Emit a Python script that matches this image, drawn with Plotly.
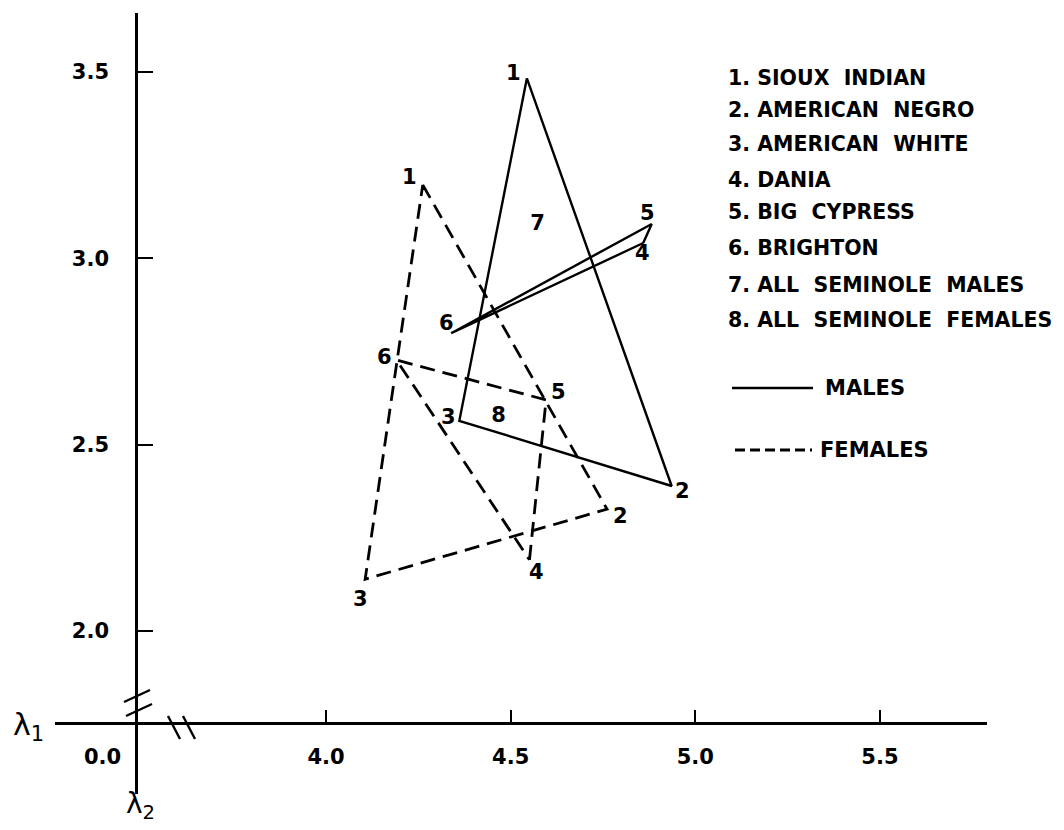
import plotly.graph_objects as go

# ---------------- data ----------------
groups = ["SIOUX INDIAN", "AMERICAN NEGRO", "AMERICAN WHITE", "DANIA",
          "BIG CYPRESS", "BRIGHTON", "ALL SEMINOLE MALES", "ALL SEMINOLE FEMALES"]
group_ids = ["1", "2", "3", "4", "5", "6"]

male_l1 = [4.544, 4.936, 4.361, 4.859, 4.882, 4.339]
male_l2 = [3.483, 2.389, 2.564, 3.041, 3.092, 2.799]
female_l1 = [4.262, 4.761, 4.106, 4.551, 4.596, 4.191]
female_l2 = [3.197, 2.327, 2.139, 2.191, 2.620, 2.727]

seminole_ids = ["7", "8"]
seminole_l1 = [4.573, 4.467]
seminole_l2 = [3.089, 2.575]

x_ticks = [4.0, 4.5, 5.0, 5.5]
x_tick_labels = ["4.0", "4.5", "5.0", "5.5"]
y_ticks = [2.0, 2.5, 3.0, 3.5]
y_tick_labels = ["2.0", "2.5", "3.0", "3.5"]

# triangle outlines: 1-2-3 and 4-5-6 (indices)
outline = [0, 1, 2, 0, None, 3, 4, 5, 3]

# ---------------- layout constants ----------------
OFF = 8                      # page body margin in the browser
W, H = 1064 - OFF, 830 - OFF
ML, MR, MT, MB = 55 - OFF, 77, 13 - OFF, 36
PW, PH = W - ML - MR, H - MT - MB
X_RANGE = [3.26618, 5.78987]
Y_RANGE = [1.56265, 3.65817]
FONT = "DejaVu Sans"


def paper(px, py):
    """page pixel -> paper coordinates"""
    return (px - OFF - ML) / PW, (H - MB - (py - OFF)) / PH


def path(xs, ys):
    ox, oy = [], []
    for i in outline:
        ox.append(None if i is None else xs[i])
        oy.append(None if i is None else ys[i])
    return ox, oy


fig = go.Figure()
mx, my = path(male_l1, male_l2)
fig.add_trace(go.Scatter(x=mx, y=my, mode="lines", name="MALES",
                         line=dict(color="black", width=2.4), hoverinfo="skip"))
fx, fy = path(female_l1, female_l2)
fig.add_trace(go.Scatter(x=fx, y=fy, mode="lines", name="FEMALES",
                         line=dict(color="black", width=2.8, dash="15px,8px"),
                         hoverinfo="skip"))

# point number labels (pixel offsets from vertex: dx right, dy down)
male_off = [(-13, -5), (11, 5), (-11, -4), (-1, 10), (-4, -11), (-5, -10)]
female_off = [(-13, -8), (13, 7), (-5, 20), (7, 12), (12, -8), (-12, -3)]
annos = []
for xs, ys, offs in ((male_l1, male_l2, male_off), (female_l1, female_l2, female_off)):
    for gid, x, y, (dx, dy) in zip(group_ids, xs, ys, offs):
        annos.append(dict(x=x, y=y, xref="x", yref="y", text=gid, showarrow=False,
                          xshift=dx, yshift=-dy,
                          font=dict(family=FONT, size=21, color="black", weight="bold")))
fig.add_trace(go.Scatter(x=seminole_l1, y=seminole_l2, mode="text", text=seminole_ids,
                         textfont=dict(family=FONT, size=21, color="black", weight="bold"),
                         showlegend=False, hoverinfo="skip"))

# key list
row_y = [78, 110, 143.5, 180, 212, 248, 285, 320]
for k, (name, ry) in enumerate(zip(groups, row_y)):
    px_, py_ = paper(726, ry)
    annos.append(dict(x=px_, y=py_, xref="paper", yref="paper", xanchor="left",
                      yanchor="middle", showarrow=False,
                      text=f"{k + 1}. " + name.replace(" ", "\u00a0\u00a0"),
                      font=dict(family=FONT, size=20.5, color="black", weight="bold")))

shapes = []
# line-style key
for (x0, x1, ly, dash, lw, label, tx) in ((732, 813, 388, "solid", 2.4, "MALES", 823),
                                          (735, 812, 450, "10px,5px", 3.2, "FEMALES", 818)):
    a0, b0 = paper(x0, ly)
    a1, _ = paper(x1, ly)
    shapes.append(dict(type="line", xref="paper", yref="paper", x0=a0, x1=a1, y0=b0, y1=b0,
                       line=dict(color="black", width=lw, dash=dash)))
    tpx, tpy = paper(tx, ly)
    annos.append(dict(x=tpx, y=tpy, xref="paper", yref="paper", xanchor="left",
                      yanchor="middle", showarrow=False, text=label,
                      font=dict(family=FONT, size=21, color="black", weight="bold")))

# axis break marks
for (x0, y0, x1, y1) in ((124, 702, 150, 690), (126, 716, 152, 704),
                         (168, 716, 180, 739), (183, 716, 195, 739)):
    a0, b0 = paper(x0, y0)
    a1, b1 = paper(x1, y1)
    shapes.append(dict(type="line", xref="paper", yref="paper", x0=a0, y0=b0, x1=a1, y1=b1,
                       line=dict(color="black", width=2.4)))

# axis titles and origin label
for (tx, ty, txt, sz, wt) in ((28, 726, "λ<sub>1</sub>", 30, "normal"),
                              (140, 806, "λ<sub>2</sub>", 28, "normal"),
                              (102, 757, "0.0", 21, "bold")):
    a, b = paper(tx, ty)
    annos.append(dict(x=a, y=b, xref="paper", yref="paper", showarrow=False, text=txt,
                      xanchor="center", yanchor="middle",
                      font=dict(family=FONT, size=sz, color="black", weight=wt)))

y_axis_pos = (136 - OFF - ML) / PW
x_axis_pos = (H - MB - (723 - OFF)) / PH

fig.update_layout(
    width=W, height=H, margin=dict(l=ML, r=MR, t=MT, b=MB),
    paper_bgcolor="white", plot_bgcolor="white", showlegend=False,
    annotations=annos, shapes=shapes,
    xaxis=dict(range=X_RANGE, showgrid=False, zeroline=False, showline=True,
               linecolor="black", linewidth=2.6, anchor="free", position=x_axis_pos,
               ticks="inside", ticklen=12, tickwidth=2, tickcolor="black",
               tickvals=x_ticks, ticktext=x_tick_labels, ticklabelstandoff=14,
               tickfont=dict(family=FONT, size=21, color="black", weight="bold")),
    yaxis=dict(range=Y_RANGE, showgrid=False, zeroline=False, showline=True,
               linecolor="black", linewidth=2.6, anchor="free", position=y_axis_pos,
               ticks="inside", ticklen=15, tickwidth=2, tickcolor="black",
               tickvals=y_ticks, ticktext=y_tick_labels, ticklabelstandoff=22,
               tickfont=dict(family=FONT, size=21, color="black", weight="bold")),
)

fig.write_html("out.html")
